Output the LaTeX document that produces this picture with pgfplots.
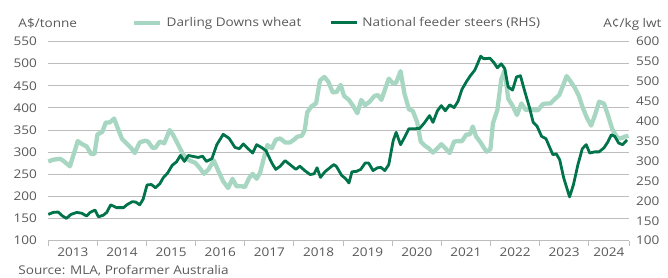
\documentclass[border=0pt]{standalone}
\usepackage{pgfplots}
\pgfplotsset{compat=1.18}
\usepackage{fontspec}
\setmainfont{Open Sans}[FakeStretch=1.13]
\definecolor{wheat}{HTML}{A7D7C2}
\definecolor{steer}{HTML}{00734A}
\definecolor{txt}{HTML}{595959}
\definecolor{grid}{HTML}{BDBDBD}
\pgfplotstableread{
x y
2013.00 279
2013.10 283
2013.24 285
2013.30 281
2013.44 268
2013.60 325
2013.69 318
2013.78 313
2013.87 296
2013.94 296
2014.00 340
2014.10 346
2014.17 367
2014.25 367
2014.34 376
2014.41 355
2014.50 330
2014.61 318
2014.69 309
2014.76 298
2014.86 322
2014.97 326
2015.03 324
2015.12 310
2015.18 310
2015.27 324
2015.36 320
2015.47 350
2015.54 339
2015.61 324
2015.73 298
2015.81 285
2015.90 280
2015.99 276
2016.07 266
2016.17 251
2016.26 261
2016.37 281
2016.46 258
2016.56 234
2016.66 219
2016.75 240
2016.83 223
2016.94 223
2017.00 221
2017.09 242
2017.16 251
2017.24 240
2017.31 253
2017.38 283
2017.46 316
2017.55 309
2017.63 328
2017.72 331
2017.82 322
2017.92 322
2018.00 328
2018.07 335
2018.16 337
2018.22 350
2018.27 390
2018.36 404
2018.45 410
2018.53 462
2018.62 470
2018.70 459
2018.79 435
2018.87 436
2018.95 452
2019.02 427
2019.12 418
2019.20 405
2019.29 388
2019.37 418
2019.45 406
2019.54 414
2019.64 427
2019.71 429
2019.78 418
2019.86 444
2019.93 466
2020.02 455
2020.08 457
2020.17 483
2020.25 432
2020.34 397
2020.42 393
2020.51 367
2020.58 324
2020.66 315
2020.74 309
2020.83 299
2020.92 309
2021.00 318
2021.08 309
2021.17 298
2021.26 324
2021.34 325
2021.42 325
2021.51 340
2021.58 340
2021.64 358
2021.71 335
2021.80 322
2021.86 311
2021.92 301
2022.00 307
2022.05 365
2022.14 395
2022.22 465
2022.29 485
2022.36 421
2022.45 405
2022.54 384
2022.63 410
2022.72 395
2022.80 397
2022.88 395
2022.97 395
2023.06 408
2023.14 410
2023.22 410
2023.31 420
2023.40 429
2023.48 451
2023.55 472
2023.63 460
2023.72 445
2023.80 427
2023.88 400
2023.97 376
2024.05 360
2024.14 388
2024.21 414
2024.31 410
2024.39 384
2024.48 352
2024.58 333
2024.66 331
2024.73 335
2024.81 337
}\wheatdata
\pgfplotstableread{
x y
2013.00 166
2013.10 171
2013.20 172
2013.29 162
2013.37 156
2013.46 166
2013.58 171
2013.68 169
2013.78 162
2013.85 171
2013.95 177
2014.02 160
2014.12 164
2014.19 171
2014.27 190
2014.39 183
2014.53 183
2014.61 191
2014.71 198
2014.78 197
2014.86 190
2014.93 204
2015.01 240
2015.10 241
2015.18 233
2015.27 243
2015.34 258
2015.43 270
2015.52 289
2015.61 298
2015.69 314
2015.77 299
2015.85 314
2015.97 311
2016.05 309
2016.14 312
2016.22 299
2016.33 306
2016.43 341
2016.56 367
2016.68 357
2016.80 334
2016.89 331
2016.97 343
2017.05 333
2017.16 320
2017.24 341
2017.34 334
2017.43 326
2017.55 295
2017.63 279
2017.72 287
2017.82 301
2017.92 291
2018.04 279
2018.12 287
2018.22 276
2018.33 266
2018.41 268
2018.47 283
2018.54 259
2018.63 273
2018.73 283
2018.81 291
2018.86 287
2018.90 279
2018.97 264
2019.05 256
2019.12 245
2019.18 273
2019.27 274
2019.36 279
2019.45 295
2019.52 295
2019.61 276
2019.70 283
2019.77 284
2019.85 276
2019.93 291
2020.02 351
2020.08 372
2020.17 341
2020.25 359
2020.34 381
2020.46 381
2020.56 382
2020.65 395
2020.76 414
2020.83 397
2020.92 426
2021.00 439
2021.08 426
2021.17 441
2021.26 434
2021.34 450
2021.42 480
2021.51 499
2021.59 514
2021.68 528
2021.73 542
2021.80 563
2021.86 557
2021.90 557
2021.99 558
2022.07 547
2022.14 534
2022.22 544
2022.29 532
2022.36 486
2022.45 478
2022.53 511
2022.61 514
2022.70 474
2022.79 436
2022.87 397
2022.95 387
2023.04 362
2023.13 356
2023.21 333
2023.27 316
2023.34 318
2023.41 303
2023.49 258
2023.61 210
2023.69 241
2023.78 291
2023.87 331
2023.95 341
2024.02 320
2024.12 323
2024.21 323
2024.31 333
2024.39 348
2024.46 366
2024.53 362
2024.61 345
2024.69 341
2024.78 353
}\steerdata
\begin{document}
\fontsize{12bp}{14bp}\selectfont
\begin{tikzpicture}
\path[use as bounding box] (0,0) rectangle (668bp,278bp);
\pgfplotsset{
  base/.style={
    scale only axis, width=580.7bp, height=199.2bp,
    at={(48.3bp,37.3bp)}, anchor=south west,
    xmin=2013, xmax=2024.82,
    ymin=100,
    /pgf/number format/assume math mode=true,
    tick label style={font=\fontsize{12bp}{14bp}\selectfont, text=txt},
    label style={font=\fontsize{12bp}{14bp}\selectfont, text=txt},
    clip=false,
  }
}
\begin{axis}[base,
  ymax=550, ytick={100,150,...,550},
  axis x line*=bottom, axis y line*=left,
  y axis line style={draw=none},
  x axis line style={draw=grid, line width=1bp},
  ytick style={draw=none},
  ymajorgrids, grid style={draw=grid, line width=1bp},
  xtick={2013,2014,...,2024,2024.82}, xticklabels={},
  xtick style={draw=grid, line width=1bp},
  major tick length=5bp, tick align=outside,
  extra x ticks={2013.5,2014.5,...,2023.5,2024.41},
  extra x tick labels={2013,2014,2015,2016,2017,2018,2019,2020,2021,2022,2023,2024},
  extra x tick style={major tick length=0pt, grid=none,
     xticklabel style={anchor=center, inner sep=0pt, yshift=-12bp}},
  yticklabel style={anchor=east, inner sep=0pt, xshift=-6.3bp},
  ylabel={A\$/tonne},
  ylabel style={at={(axis description cs:-0.0517,1.0713)}, anchor=base west, rotate=-90, inner sep=0pt},
]
\addplot[wheat, line width=4.3bp, line join=round] table[x=x,y=y]{\wheatdata};
\end{axis}
\begin{axis}[base,
  ymax=600, ytick={100,150,...,600},
  axis x line=none, axis y line*=right,
  y axis line style={draw=none}, ytick style={draw=none},
  yticklabel style={anchor=west, inner sep=0pt, xshift=7bp},
  ylabel={A¢/kg lwt},
  ylabel style={at={(axis description cs:1.0563,1.0713)}, anchor=base east, rotate=-90, inner sep=0pt},
  legend columns=2,
  legend style={at={(axis description cs:0.1447,1.094)}, anchor=west, draw=none, fill=none,
    inner sep=0pt, outer sep=0pt,
    nodes={inner sep=0pt, text=txt, font=\fontsize{12bp}{14bp}\selectfont},
    /tikz/every odd column/.append style={column sep=4.4bp},
    /tikz/every even column/.append style={column sep=28bp}},
  legend cell align=left,
  legend image code/.code={\draw[#1] (0bp,0bp) -- (26bp,0bp);},
]
\addlegendimage{wheat, line width=4bp}
\addlegendentry{Darling Downs wheat}
\addplot[steer, line width=2.8bp, line join=round] table[x=x,y=y]{\steerdata};
\addlegendentry{National feeder steers (RHS)}
\end{axis}
\node[anchor=base west, inner sep=0pt, text=txt] at (18.3bp,3.5bp) {Source: MLA, Profarmer Australia};
\end{tikzpicture}
\end{document}
